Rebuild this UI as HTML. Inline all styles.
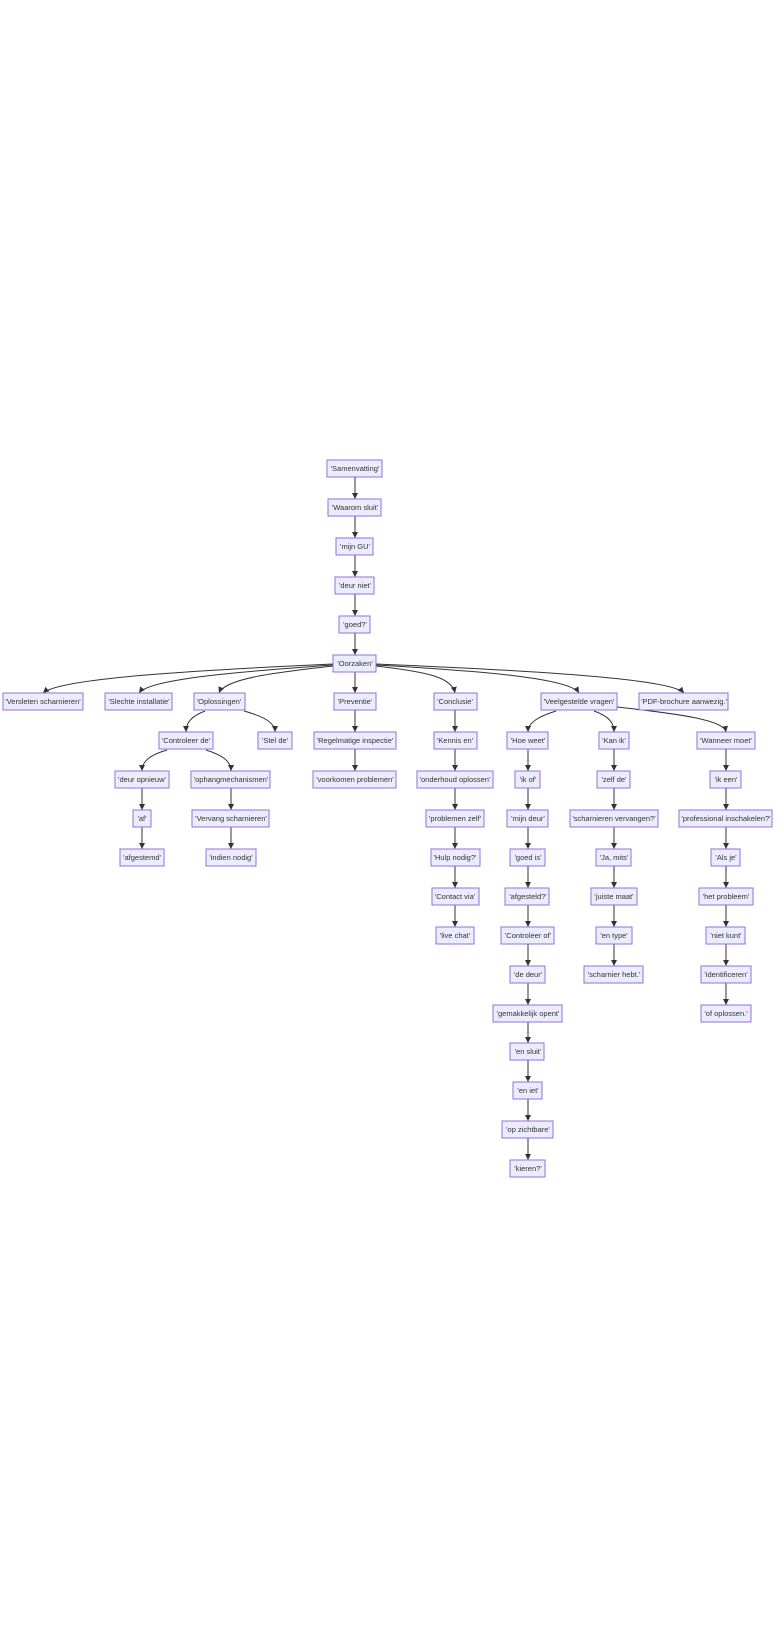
<!DOCTYPE html>
<html><head><meta charset="utf-8"><style>
html,body{margin:0;padding:0;background:#fff;width:784px;height:1638px;overflow:hidden}
svg{display:block}
rect{fill:#ECECFF;stroke:#9370DB;stroke-width:1}
text{font-family:"Liberation Sans",sans-serif;font-size:7.5px;fill:#333;text-anchor:middle}
path{fill:none;stroke:#333;stroke-width:1}
</style></head><body>
<svg width="784" height="1638" viewBox="0 0 784 1638" xmlns="http://www.w3.org/2000/svg">
<defs><marker id="a" viewBox="0 0 10 10" refX="10" refY="5" markerWidth="6" markerHeight="6" orient="auto"><path d="M0,0 L10,5 L0,10 z" style="fill:#333;stroke:none"/></marker></defs>
<g marker-end="url(#a)">
<!-- main chain -->
<path d="M355,477 V499"/><path d="M355,516 V538"/><path d="M355,555 V577"/><path d="M355,594 V616"/><path d="M355,633 V655"/>
<!-- Oorzaken children -->
<path d="M333,664 C200,670 60,678 43,693"/>
<path d="M333,665 C250,671 150,678 139,693"/>
<path d="M333,666 C280,672 225,678 219,693"/>
<path d="M355,672 V693"/>
<path d="M376,666 C430,672 452,678 455,693"/>
<path d="M376,665 C480,671 570,678 579,693"/>
<path d="M376,664 C520,670 670,678 684,693"/>
<!-- Preventie -->
<path d="M355,710 V732"/><path d="M355,749 V771"/>
<!-- Oplossingen -->
<path d="M205,711 C192,716 186,722 186,732"/>
<path d="M244,711 C262,716 275,722 275,732"/>
<path d="M167,750 C150,755 142,761 142,771"/>
<path d="M206,750 C222,755 231,761 231,771"/>
<path d="M142,788 V810"/><path d="M142,827 V849"/>
<path d="M231,788 V810"/><path d="M231,827 V849"/>
<!-- Conclusie -->
<path d="M455,710 V732"/><path d="M455,749 V771"/><path d="M455,788 V810"/><path d="M455,827 V849"/><path d="M455,866 V888"/><path d="M455,905 V927"/>
<!-- Veelgestelde -->
<path d="M556,711 C540,716 528,722 528,732"/>
<path d="M594,711 C608,716 614,722 614,732"/>
<path d="M617,707 C680,714 724,720 726,732"/>
<path d="M528,749 V771"/><path d="M528,788 V810"/><path d="M528,827 V849"/><path d="M528,866 V888"/><path d="M528,905 V927"/><path d="M528,944 V966"/><path d="M528,983 V1005"/><path d="M528,1022 V1043"/><path d="M528,1060 V1082"/><path d="M528,1099 V1121"/><path d="M528,1138 V1160"/>
<path d="M614,749 V771"/><path d="M614,788 V810"/><path d="M614,827 V849"/><path d="M614,866 V888"/><path d="M614,905 V927"/><path d="M614,944 V966"/>
<path d="M726,749 V771"/><path d="M726,788 V810"/><path d="M726,827 V849"/><path d="M726,866 V888"/><path d="M726,905 V927"/><path d="M726,944 V966"/><path d="M726,983 V1005"/>
</g>
<!-- nodes -->
<rect x="327" y="460" width="55" height="17"/><text x="355" y="471">'Samenvatting'</text>
<rect x="328" y="499" width="53" height="17"/><text x="355" y="510">'Waarom sluit'</text>
<rect x="336" y="538" width="37" height="17"/><text x="355" y="549">'mijn GU'</text>
<rect x="335" y="577" width="39" height="17"/><text x="355" y="588">'deur niet'</text>
<rect x="339" y="616" width="31" height="17"/><text x="355" y="627">'goed?'</text>
<rect x="333" y="655" width="43" height="17"/><text x="355" y="666">'Oorzaken'</text>

<rect x="3" y="693" width="80" height="17"/><text x="43" y="704">'Versleten scharnieren'</text>
<rect x="105" y="693" width="67" height="17"/><text x="139" y="704">'Slechte installatie'</text>
<rect x="194" y="693" width="51" height="17"/><text x="219" y="704">'Oplossingen'</text>
<rect x="334" y="693" width="42" height="17"/><text x="355" y="704">'Preventie'</text>
<rect x="434" y="693" width="43" height="17"/><text x="455" y="704">'Conclusie'</text>
<rect x="541" y="693" width="76" height="17"/><text x="579" y="704">'Veelgestelde vragen'</text>
<rect x="639" y="693" width="89" height="17"/><text x="684" y="704">'PDF-brochure aanwezig.'</text>

<rect x="159" y="732" width="54" height="17"/><text x="186" y="743">'Controleer de'</text>
<rect x="258" y="732" width="34" height="17"/><text x="275" y="743">'Stel de'</text>
<rect x="314" y="732" width="82" height="17"/><text x="355" y="743">'Regelmatige inspectie'</text>
<rect x="434" y="732" width="43" height="17"/><text x="455" y="743">'Kennis en'</text>
<rect x="507" y="732" width="41" height="17"/><text x="528" y="743">'Hoe weet'</text>
<rect x="599" y="732" width="30" height="17"/><text x="614" y="743">'Kan ik'</text>
<rect x="697" y="732" width="58" height="17"/><text x="726" y="743">'Wanneer moet'</text>

<rect x="115" y="771" width="54" height="17"/><text x="142" y="782">'deur opnieuw'</text>
<rect x="191" y="771" width="79" height="17"/><text x="231" y="782">'ophangmechanismen'</text>
<rect x="313" y="771" width="83" height="17"/><text x="355" y="782">'voorkomen problemen'</text>
<rect x="417" y="771" width="76" height="17"/><text x="455" y="782">'onderhoud oplossen'</text>
<rect x="515" y="771" width="25" height="17"/><text x="528" y="782">'ik of'</text>
<rect x="597" y="771" width="33" height="17"/><text x="614" y="782">'zelf de'</text>
<rect x="710" y="771" width="31" height="17"/><text x="726" y="782">'ik een'</text>

<rect x="133" y="810" width="18" height="17"/><text x="142" y="821">'af'</text>
<rect x="192" y="810" width="77" height="17"/><text x="231" y="821">'Vervang scharnieren'</text>
<rect x="426" y="810" width="58" height="17"/><text x="455" y="821">'problemen zelf'</text>
<rect x="507" y="810" width="41" height="17"/><text x="528" y="821">'mijn deur'</text>
<rect x="570" y="810" width="88" height="17"/><text x="614" y="821">'scharnieren vervangen?'</text>
<rect x="679" y="810" width="93" height="17"/><text x="726" y="821">'professional inschakelen?'</text>

<rect x="120" y="849" width="44" height="17"/><text x="142" y="860">'afgestemd'</text>
<rect x="206" y="849" width="50" height="17"/><text x="231" y="860">'indien nodig'</text>
<rect x="431" y="849" width="49" height="17"/><text x="455" y="860">'Hulp nodig?'</text>
<rect x="510" y="849" width="35" height="17"/><text x="528" y="860">'goed is'</text>
<rect x="596" y="849" width="35" height="17"/><text x="614" y="860">'Ja, mits'</text>
<rect x="711" y="849" width="29" height="17"/><text x="726" y="860">'Als je'</text>

<rect x="432" y="888" width="47" height="17"/><text x="455" y="899">'Contact via'</text>
<rect x="505" y="888" width="44" height="17"/><text x="528" y="899">'afgesteld?'</text>
<rect x="591" y="888" width="46" height="17"/><text x="614" y="899">'juiste maat'</text>
<rect x="699" y="888" width="54" height="17"/><text x="726" y="899">'het probleem'</text>

<rect x="436" y="927" width="38" height="17"/><text x="455" y="938">'live chat'</text>
<rect x="501" y="927" width="53" height="17"/><text x="528" y="938">'Controleer of'</text>
<rect x="596" y="927" width="36" height="17"/><text x="614" y="938">'en type'</text>
<rect x="706" y="927" width="39" height="17"/><text x="726" y="938">'niet kunt'</text>

<rect x="510" y="966" width="35" height="17"/><text x="528" y="977">'de deur'</text>
<rect x="584" y="966" width="59" height="17"/><text x="614" y="977">'scharnier hebt.'</text>
<rect x="701" y="966" width="50" height="17"/><text x="726" y="977">'identificeren'</text>

<rect x="493" y="1005" width="69" height="17"/><text x="528" y="1016">'gemakkelijk opent'</text>
<rect x="701" y="1005" width="50" height="17"/><text x="726" y="1016">'of oplossen.'</text>

<rect x="510" y="1043" width="34" height="17"/><text x="528" y="1054">'en sluit'</text>
<rect x="513" y="1082" width="29" height="17"/><text x="528" y="1093">'en iet'</text>
<rect x="502" y="1121" width="51" height="17"/><text x="528" y="1132">'op zichtbare'</text>
<rect x="510" y="1160" width="35" height="17"/><text x="528" y="1171">'kieren?'</text>
</svg>
</body></html>
